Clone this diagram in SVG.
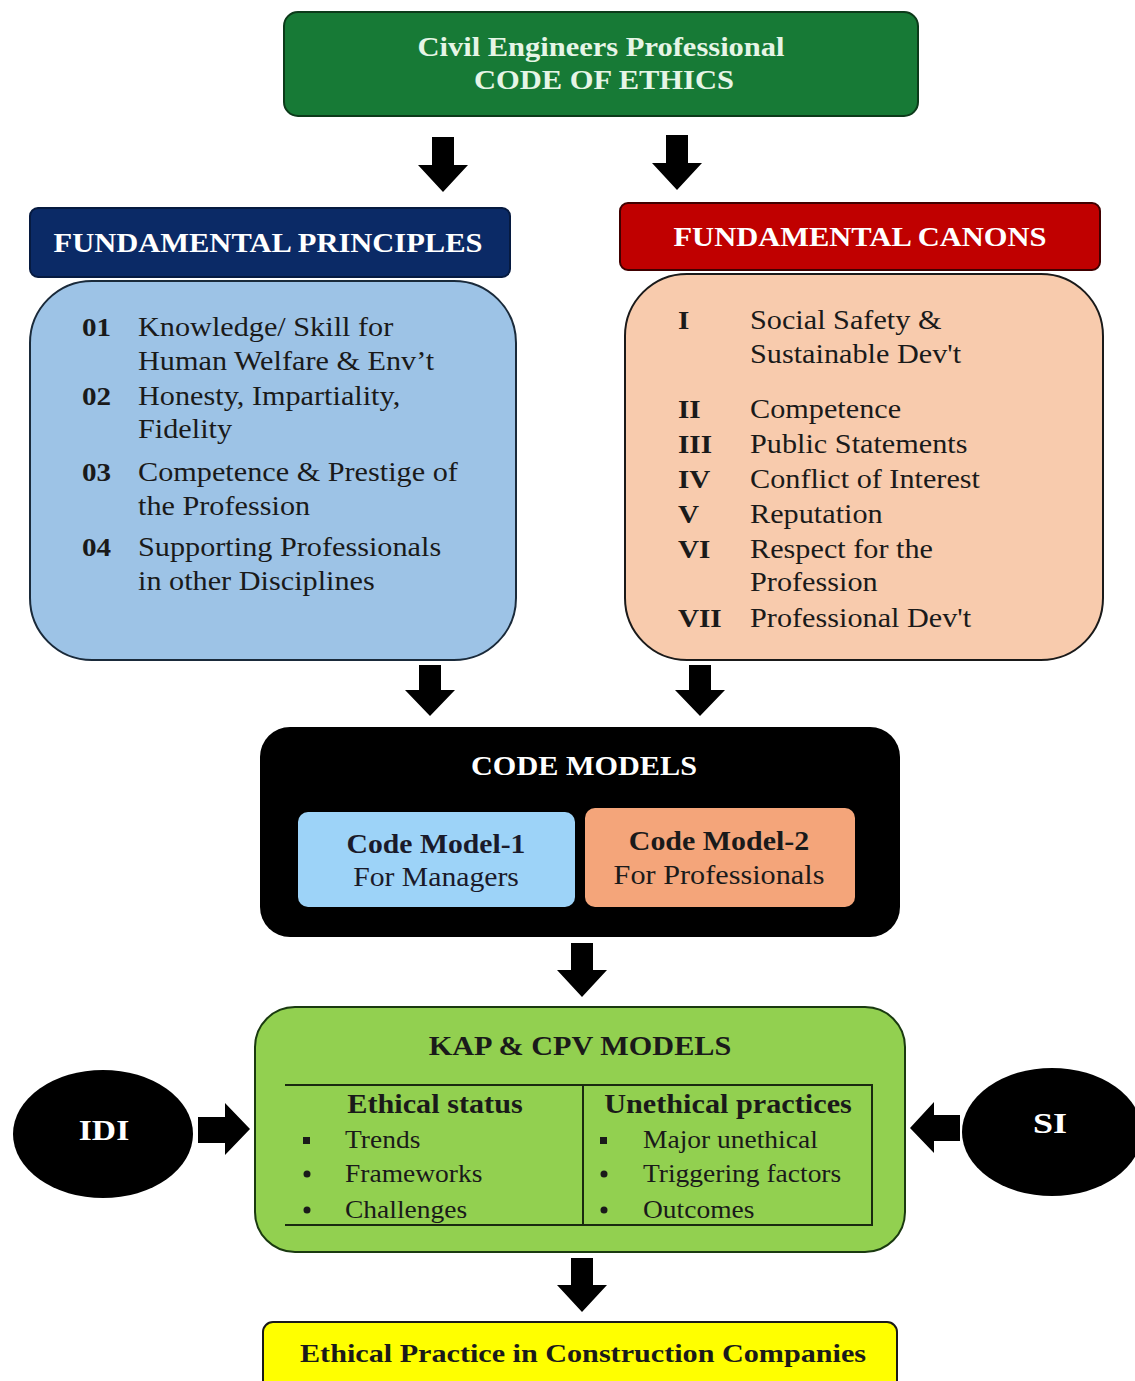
<svg xmlns="http://www.w3.org/2000/svg" width="1135" height="1381" viewBox="0 0 1135 1381">
<style>
text{font-family:"Liberation Serif","Times New Roman",serif}
.b{font-weight:bold}
.t{font-size:27px;fill:#1a1a1a}
.n{font-size:26px;font-weight:bold;fill:#1a1a1a}
.s{font-size:25px;fill:#1a1a1a}
.w{fill:#ffffff}
.c{text-anchor:middle}
.arrow{fill:#000}
</style>
<rect width="1135" height="1381" fill="#ffffff"/>

<g id="code-of-ethics">
<rect x="284" y="12" width="634" height="104" rx="14" fill="#177a36" stroke="#0c3a1a" stroke-width="2"/>
<text transform="translate(601,56) scale(1.09,1)" class="b c" font-size="28" fill="#e6f5e6">Civil Engineers Professional</text>
<text transform="translate(604,89) scale(1.09,1)" class="b c" font-size="28" fill="#e6f5e6">CODE OF ETHICS</text>
</g>

<g id="principles-header">
<rect x="30" y="208" width="480" height="69" rx="8" fill="#0b2a66" stroke="#061a40" stroke-width="2"/>
<text transform="translate(268,252) scale(1.13,1)" class="b c w" font-size="27">FUNDAMENTAL PRINCIPLES</text>
</g>

<g id="principles">
<rect x="30" y="281" width="486" height="379" rx="62" fill="#9dc3e6" stroke="#1a2a3a" stroke-width="2"/>
<text transform="translate(82,336) scale(1.12,1)" class="n">01</text>
<text transform="translate(138,336) scale(1.12,1)" class="t">Knowledge/ Skill for</text>
<text transform="translate(138,370) scale(1.12,1)" class="t">Human Welfare &amp; Env’t</text>
<text transform="translate(82,405) scale(1.12,1)" class="n">02</text>
<text transform="translate(138,405) scale(1.12,1)" class="t">Honesty, Impartiality,</text>
<text transform="translate(138,438) scale(1.12,1)" class="t">Fidelity</text>
<text transform="translate(82,481) scale(1.12,1)" class="n">03</text>
<text transform="translate(138,481) scale(1.12,1)" class="t">Competence &amp; Prestige of</text>
<text transform="translate(138,515) scale(1.12,1)" class="t">the Profession</text>
<text transform="translate(82,556) scale(1.12,1)" class="n">04</text>
<text transform="translate(138,556) scale(1.12,1)" class="t">Supporting Professionals</text>
<text transform="translate(138,590) scale(1.12,1)" class="t">in other Disciplines</text>
</g>

<g id="canons-header">
<rect x="620" y="203" width="480" height="67" rx="8" fill="#c00000" stroke="#400000" stroke-width="2"/>
<text transform="translate(860,246) scale(1.13,1)" class="b c w" font-size="27">FUNDAMENTAL CANONS</text>
</g>

<g id="canons">
<rect x="625" y="274" width="478" height="386" rx="62" fill="#f8cbad" stroke="#1a1a1a" stroke-width="2"/>
<text transform="translate(678,329) scale(1.12,1)" class="n">I</text>
<text transform="translate(750,329) scale(1.12,1)" class="t">Social Safety &amp;</text>
<text transform="translate(750,363) scale(1.12,1)" class="t">Sustainable Dev't</text>
<text transform="translate(678,418) scale(1.12,1)" class="n">II</text>
<text transform="translate(750,418) scale(1.12,1)" class="t">Competence</text>
<text transform="translate(678,453) scale(1.12,1)" class="n">III</text>
<text transform="translate(750,453) scale(1.12,1)" class="t">Public Statements</text>
<text transform="translate(678,488) scale(1.12,1)" class="n">IV</text>
<text transform="translate(750,488) scale(1.12,1)" class="t">Conflict of Interest</text>
<text transform="translate(678,523) scale(1.12,1)" class="n">V</text>
<text transform="translate(750,523) scale(1.12,1)" class="t">Reputation</text>
<text transform="translate(678,558) scale(1.12,1)" class="n">VI</text>
<text transform="translate(750,558) scale(1.12,1)" class="t">Respect for the</text>
<text transform="translate(750,591) scale(1.12,1)" class="t">Profession</text>
<text transform="translate(678,627) scale(1.12,1)" class="n">VII</text>
<text transform="translate(750,627) scale(1.12,1)" class="t">Professional Dev't</text>
</g>

<g id="code-models">
<rect x="260" y="727" width="640" height="210" rx="30" fill="#000000"/>
<text transform="translate(584,775) scale(1.12,1)" class="b c w" font-size="27">CODE MODELS</text>
<g id="code-model-1">
<rect x="298" y="812" width="277" height="95" rx="10" fill="#9dd3f8"/>
<text transform="translate(436,853) scale(1.06,1)" class="b c" font-size="28" fill="#1a1a2a">Code Model-1</text>
<text transform="translate(436,886) scale(1.1,1)" class="c" font-size="27" fill="#1a1a2a">For Managers</text>
</g>
<g id="code-model-2">
<rect x="585" y="808" width="270" height="99" rx="10" fill="#f4a57a"/>
<text transform="translate(719,850) scale(1.07,1)" class="b c" font-size="28" fill="#1a1a1a">Code Model-2</text>
<text transform="translate(719,884) scale(1.12,1)" class="c" font-size="27" fill="#1a1a1a">For Professionals</text>
</g>
</g>

<g id="kap-cpv">
<rect x="255" y="1007" width="650" height="245" rx="40" fill="#92d050" stroke="#1a3a10" stroke-width="2"/>
<text transform="translate(580,1055) scale(1.12,1)" class="b c" font-size="27" fill="#1a1a1a">KAP &amp; CPV MODELS</text>
<g stroke="#1a2a10" stroke-width="2" fill="none">
<line x1="285" y1="1085" x2="873" y2="1085"/>
<line x1="285" y1="1225" x2="873" y2="1225"/>
<line x1="583" y1="1085" x2="583" y2="1225"/>
<line x1="872" y1="1085" x2="872" y2="1225"/>
</g>
<text transform="translate(435,1113) scale(1.12,1)" class="b c" font-size="27" fill="#1a1a1a">Ethical status</text>
<text transform="translate(728,1113) scale(1.12,1)" class="b c" font-size="27" fill="#1a1a1a">Unethical practices</text>
<g fill="#1a1a1a">
<rect x="303" y="1137" width="7" height="7"/><circle cx="307" cy="1174" r="3.5"/><circle cx="307" cy="1210" r="3.5"/>
<rect x="600" y="1137" width="7" height="7"/><circle cx="604" cy="1174" r="3.5"/><circle cx="604" cy="1210" r="3.5"/>
</g>
<text transform="translate(345,1148) scale(1.1,1)" class="s">Trends</text>
<text transform="translate(345,1182) scale(1.1,1)" class="s">Frameworks</text>
<text transform="translate(345,1218) scale(1.1,1)" class="s">Challenges</text>
<text transform="translate(643,1148) scale(1.1,1)" class="s">Major unethical</text>
<text transform="translate(643,1182) scale(1.1,1)" class="s">Triggering factors</text>
<text transform="translate(643,1218) scale(1.1,1)" class="s">Outcomes</text>
</g>

<g id="idi">
<ellipse cx="103" cy="1134" rx="90" ry="64" fill="#000"/>
<text transform="translate(104,1140) scale(1.12,1)" class="b c w" font-size="30">IDI</text>
</g>

<g id="si">
<ellipse cx="1052" cy="1132" rx="90" ry="64" fill="#000"/>
<text transform="translate(1050,1133) scale(1.2,1)" class="b c w" font-size="30">SI</text>
</g>

<g id="ethical-practice">
<rect x="263" y="1322" width="634" height="70" rx="10" fill="#ffff00" stroke="#1a1a1a" stroke-width="2"/>
<text transform="translate(583,1362) scale(1.16,1)" class="b c" font-size="26" fill="#1a1a1a">Ethical Practice in Construction Companies</text>
</g>

<g id="connectors" class="arrow">
<polygon points="432,137 454,137 454,165 468,165 443,192 418,165 432,165"/>
<polygon points="666,135 688,135 688,163 702,163 677,190 652,163 666,163"/>
<polygon points="419,665 441,665 441,690 455,690 430,716 405,690 419,690"/>
<polygon points="689,665 711,665 711,690 725,690 700,716 675,690 689,690"/>
<polygon points="571,943 593,943 593,970 607,970 582,997 557,970 571,970"/>
<polygon points="571,1258 593,1258 593,1285 607,1285 582,1312 557,1285 571,1285"/>
<polygon points="198,1117 225,1117 225,1103 250,1129 225,1155 225,1143 198,1143"/>
<polygon points="960,1115 934,1115 934,1102 910,1128 934,1153 934,1141 960,1141"/>
</g>
</svg>
